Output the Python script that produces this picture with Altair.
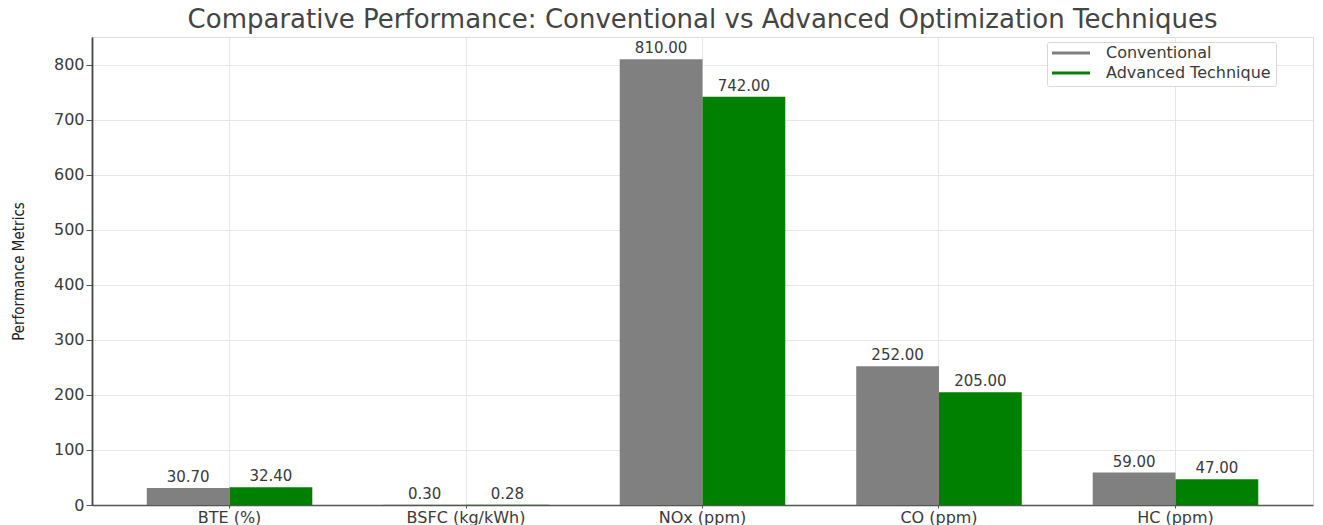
import altair as alt
import pandas as pd

# Performance metrics for the two optimisation approaches
metrics = ["BTE (%)", "BSFC (kg/kWh)", "NOx (ppm)", "CO (ppm)", "HC (ppm)"]
conventional = [30.70, 0.30, 810.00, 252.00, 59.00]
advanced = [32.40, 0.28, 742.00, 205.00, 47.00]
series = ["Conventional", "Advanced Technique"]
colors = ["#808080", "#008000"]
y_ticks = [0, 100, 200, 300, 400, 500, 600, 700, 800]

rows = []
for m, c, a in zip(metrics, conventional, advanced):
    rows.append({"Metric": m, "Series": series[0], "Value": c})
    rows.append({"Metric": m, "Series": series[1], "Value": a})
df = pd.DataFrame(rows)

text_color = "#3a3a3a"
grid_color = "#e6e6e6"

x_enc = alt.X(
    "Metric:N",
    sort=metrics,
    scale=alt.Scale(paddingInner=0.3, paddingOuter=0.2315, align=0.5),
    axis=alt.Axis(
        title=None,
        labelAngle=0,
        labelFont="DejaVu Sans",
        labelFontSize=16,
        labelColor=text_color,
        labelPadding=1,
        tickSize=3,
        tickColor="#555555",
        bandPosition=0.5,
        grid=True,
        gridColor=grid_color,
        domainColor="#555555",
        domainWidth=1.5,
    ),
)
xoff = alt.XOffset("Series:N", sort=series, scale=alt.Scale(domain=series))
y_enc = alt.Y(
    "Value:Q",
    scale=alt.Scale(domain=[0, 850.5], nice=False, zero=True),
    axis=alt.Axis(
        title="Performance Metrics",
        titleFont="Liberation Sans Narrow, DejaVu Sans Condensed, Liberation Sans",
        titleFontSize=15,
        titleFontWeight="normal",
        titleColor="#222222",
        titleAngle=270,
        titleX=-66,
        titleY=234,
        titleAlign="center",
        titleBaseline="bottom",
        values=y_ticks,
        labelFont="DejaVu Sans",
        labelFontSize=16,
        labelColor=text_color,
        labelPadding=2,
        tickSize=6,
        tickColor="#555555",
        grid=True,
        gridColor=grid_color,
        domainColor="#444444",
        domainWidth=1.8,
    ),
)

bars = alt.Chart(df).mark_bar().encode(
    x=x_enc,
    xOffset=xoff,
    y=y_enc,
    color=alt.Color(
        "Series:N",
        sort=series,
        scale=alt.Scale(domain=series, range=colors),
        legend=alt.Legend(
            title=None,
            orient="none",
            legendX=955,
            legendY=5,
            symbolType="M-1,-0.085H1V0.085H-1Z",
            symbolSize=1444,
            symbolStrokeWidth=0,
            clipHeight=12,
            labelFont="DejaVu Sans",
            labelFontSize=16,
            labelLimit=400,
            labelColor=text_color,
            labelOffset=16,
            rowPadding=4,
            padding=5,
            strokeColor="#d8d8d8",
            fillColor="white",
            cornerRadius=2,
        ),
    ),
)

labels = alt.Chart(df).mark_text(
    baseline="alphabetic",
    dy=-6,
    font="DejaVu Sans",
    fontSize=15,
    color=text_color,
).encode(
    x=alt.X("Metric:N", sort=metrics),
    xOffset=xoff,
    y=alt.Y("Value:Q"),
    text=alt.Text("Value:Q", format=".2f"),
)

chart = (
    alt.layer(bars, labels)
    .properties(
        width=1221,
        height=468,
        title=alt.TitleParams(
            "Comparative Performance: Conventional vs Advanced Optimization Techniques",
            font="DejaVu Sans",
            fontSize=26,
            fontWeight="normal",
            color="#444444",
            anchor="middle",
            baseline="alphabetic",
            offset=11,
            dy=28,
        ),
        padding={"left": 92, "top": 37, "right": 10, "bottom": 20},
        autosize=alt.AutoSizeParams(type="none"),
    )
    .configure_view(stroke=None)
    .configure(background="white")
)

chart.save("out.html", embed_options={"renderer": "svg", "actions": False})
